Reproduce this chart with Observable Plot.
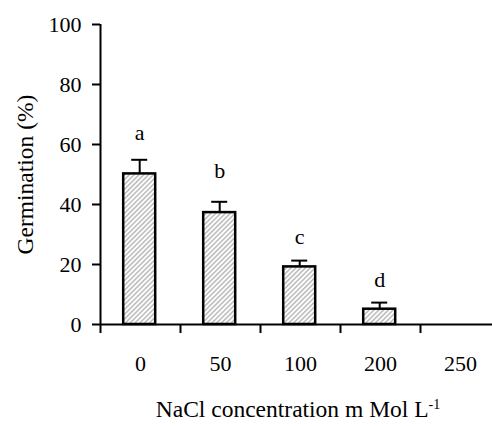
<!DOCTYPE html>
<html><head><meta charset="utf-8">
<script src="https://cdn.jsdelivr.net/npm/d3@7"></script>
<script src="https://cdn.jsdelivr.net/npm/@observablehq/plot@0.6"></script>
<style>
body{margin:0;background:#fff;font-family:"Liberation Serif","Times New Roman",serif;}
#wrap{position:relative;width:492px;height:426px;}
#xlabel{position:absolute;top:396px;left:100px;width:396px;text-align:center;font-size:23.5px;line-height:27px;color:#000;white-space:nowrap;}
#xlabel sup{font-size:14px;vertical-align:0.55em;line-height:0;}
</style>
</head><body>
<div id="wrap"><div id="chart"></div><div id="xlabel">NaCl concentration m Mol L<sup>-1</sup></div></div>
<script>
const categories = ["0", "50", "100", "200", "250"];
const means = [50.2, 37.3, 19.2, 5.1, 0];
const errors = [4.7, 3.6, 2.1, 2.2, 0];
const letters = ["a", "b", "c", "d", ""];
const letterY = [61.6, 48.9, 26.7, 12.4, 0];
const yTicks = [0, 20, 40, 60, 80, 100];
const yTitle = "Germination (%)";

const rows = categories.map((c, i) => ({i, c, mean: means[i], err: errors[i], letter: letters[i], ly: letterY[i]}));
const FONT = '"Liberation Serif", "Times New Roman", serif';

const svg = Plot.plot({
  width: 492,
  height: 392,
  marginLeft: 100,
  marginRight: 0,
  marginTop: 24,
  marginBottom: 68,
  style: {fontFamily: FONT, fontSize: "22px", color: "black", background: "white"},
  x: {domain: [0, 4.9]},
  y: {domain: [0, 100]},
  marks: [
    Plot.rectY(rows, {x1: d => d.i + 0.29, x2: d => d.i + 0.69, y1: 0, y2: "mean", fill: "url(#hatch)", stroke: "black", strokeWidth: 2.5}),
    Plot.ruleX(rows.filter(d => d.err > 0), {x: d => d.i + 0.49, y1: "mean", y2: d => d.mean + d.err, stroke: "black", strokeWidth: 2}),
    Plot.ruleY(rows.filter(d => d.err > 0), {x1: d => d.i + 0.39, x2: d => d.i + 0.59, y: d => d.mean + d.err, stroke: "black", strokeWidth: 2}),
    Plot.text(rows.filter(d => d.letter), {x: d => d.i + 0.49, y: "ly", text: "letter", lineAnchor: "bottom", fontSize: 22, fill: "black"}),
    Plot.axisY(yTicks, {tickSize: 8, tickPadding: 11, strokeWidth: 2, label: null, fontSize: 22}),
    Plot.axisX([0, 1, 2, 3, 4], {tickSize: 9, strokeWidth: 2, tickFormat: () => "", label: null}),
    Plot.axisX(rows.map(d => d.i + 0.5), {tickSize: 0, tickPadding: 31, tickFormat: v => categories[Math.floor(v)], label: null, fontSize: 22}),
    Plot.ruleX([0], {y1: 0, y2: 100, stroke: "black", strokeWidth: 2}),
    Plot.ruleY([0], {stroke: "black", strokeWidth: 2}),
    Plot.text([yTitle], {frameAnchor: "left", textAnchor: "middle", rotate: -90, dx: -75, fontSize: 23.5, fill: "black"})
  ]
});

const ns = "http://www.w3.org/2000/svg";
const defs = document.createElementNS(ns, "defs");
defs.innerHTML = '<pattern id="hatch" patternUnits="userSpaceOnUse" width="3.4" height="3.4" patternTransform="rotate(45)"><rect width="3.4" height="3.4" fill="white"/><line x1="0.8" y1="0" x2="0.8" y2="3.4" stroke="#b4b4b4" stroke-width="1.4"/></pattern>';
svg.insertBefore(defs, svg.firstChild);
document.getElementById("chart").appendChild(svg);
</script>
</body></html>
